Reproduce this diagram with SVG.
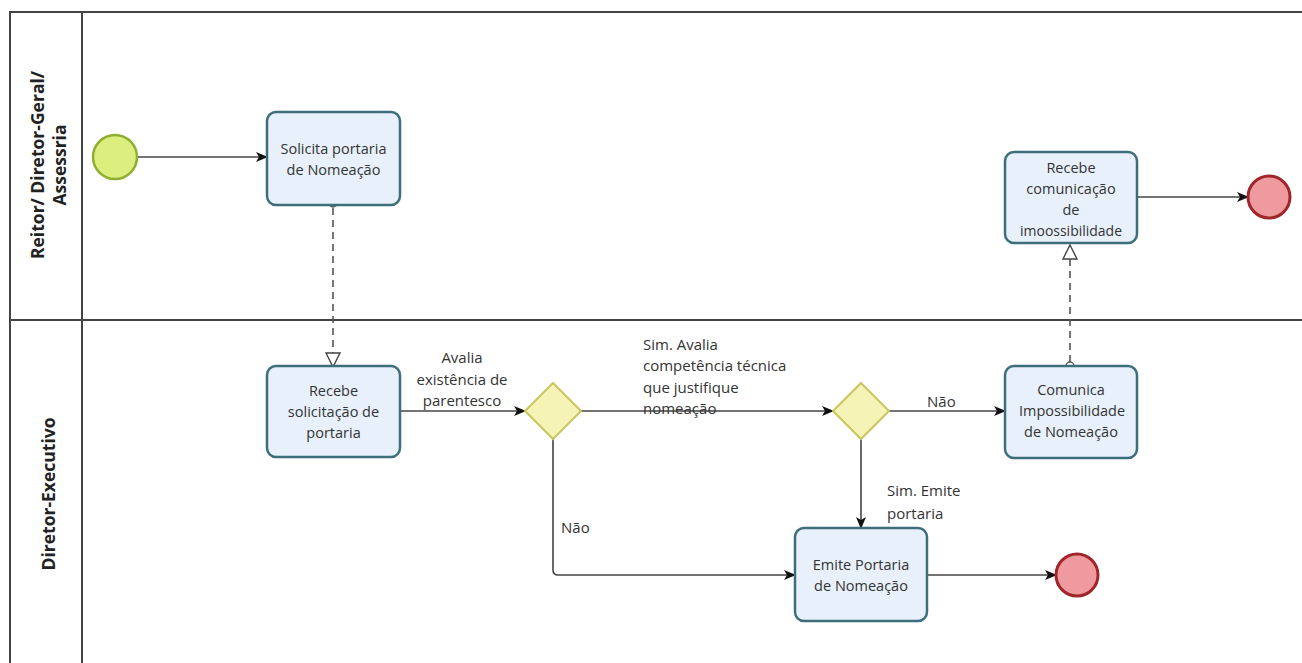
<svg xmlns="http://www.w3.org/2000/svg" width="1302" height="663" viewBox="0 0 1302 663">
  <style>
    .lane { fill: none; stroke: #444; stroke-width: 2; }
    .lane-title { font-family: "Open Sans", "Noto Sans", sans-serif; font-size: 17.5px; font-weight: bold; fill: #222; text-anchor: middle; }
    .task rect { fill: #e8f1fb; stroke: #3d6e7c; stroke-width: 2.5; }
    .task text { font-family: "Open Sans", "Noto Sans", sans-serif; font-size: 14.5px; fill: #333; text-anchor: middle; }
    .start circle { fill: #dcef7e; stroke: #8fae32; stroke-width: 2.5; }
    .end circle { fill: #ef9a9e; stroke: #a0262c; stroke-width: 3; }
    .gateway polygon { fill: #f5f3b5; stroke: #c9c560; stroke-width: 2; }
    .flow { fill: none; stroke: #444; stroke-width: 1.6; marker-end: url(#arrow); }
    .msg { fill: none; stroke: #555; stroke-width: 1.6; stroke-dasharray: 7 5; marker-end: url(#open-arrow); }
    .msg-start { fill: #fff; stroke: #555; stroke-width: 1.4; }
    .label { font-family: "Open Sans", "Noto Sans", sans-serif; font-size: 15px; fill: #333; }
  </style>
  <defs>
    <marker id="arrow" viewBox="0 0 12 10" refX="11" refY="5" markerWidth="12" markerHeight="10" markerUnits="userSpaceOnUse" orient="auto">
      <path d="M0,0 L12,5 L0,10 L3,5 Z" fill="#111"/>
    </marker>
    <marker id="open-arrow" viewBox="0 0 16 16" refX="15" refY="8" markerWidth="16" markerHeight="16" markerUnits="userSpaceOnUse" orient="auto">
      <path d="M1,1 L15,8 L1,15 Z" fill="#fff" stroke="#444" stroke-width="1.4"/>
    </marker>
  </defs>

  <rect width="1302" height="663" fill="#fff"/>

  <!-- pool and lanes -->
  <g id="pool">
    <path class="lane" d="M1302,12 H10 V663"/>
    <path class="lane" d="M82,12 V663"/>
    <path class="lane" d="M10,320 H1302"/>
    <text class="lane-title" transform="translate(44,165) rotate(-90)">Reitor/ Diretor-Geral/</text>
    <text class="lane-title" transform="translate(66,165) rotate(-90)">Assessria</text>
    <text class="lane-title" transform="translate(55,494) rotate(-90)">Diretor-Executivo</text>
  </g>

  <!-- connectors -->
  <g id="connectors">
    <path class="flow" d="M137,157 H267"/>
    <path class="msg" d="M333,208 V367"/>
    <circle class="msg-start" cx="333" cy="203" r="4"/>
    <path class="flow" d="M400,411 H525"/>
    <path class="flow" d="M581,411 H833"/>
    <path class="flow" d="M889,411 H1005"/>
    <path class="flow" d="M861,439 V528"/>
    <path class="flow" d="M553,439 V570 Q553,575 558,575 H795"/>
    <path class="flow" d="M927,575 H1056"/>
    <path class="msg" d="M1070,362 V245"/>
    <circle class="msg-start" cx="1070" cy="366" r="4"/>
    <path class="flow" d="M1137,197 H1248"/>
    <text class="label" text-anchor="middle"><tspan x="462" y="363">Avalia</tspan><tspan x="462" y="385">existência de</tspan><tspan x="462" y="406">parentesco</tspan></text>
    <text class="label"><tspan x="643" y="350">Sim. Avalia</tspan><tspan x="643" y="371">competência técnica</tspan><tspan x="643" y="393">que justifique</tspan><tspan x="643" y="414">nomeação</tspan></text>
    <text class="label" x="927" y="407">Não</text>
    <text class="label"><tspan x="887" y="496">Sim. Emite</tspan><tspan x="887" y="519">portaria</tspan></text>
    <text class="label" x="561" y="533">Não</text>
  </g>

  <!-- events -->
  <g id="start" class="start"><circle cx="115" cy="157" r="22"/></g>
  <g id="end-top" class="end"><circle cx="1269" cy="197" r="21"/></g>
  <g id="end-bottom" class="end"><circle cx="1077" cy="575" r="21"/></g>

  <!-- gateways -->
  <g id="gw-parentesco" class="gateway"><polygon points="553,383 581,411 553,439 525,411"/></g>
  <g id="gw-competencia" class="gateway"><polygon points="861,383 889,411 861,439 833,411"/></g>

  <!-- tasks -->
  <g id="task-solicita" class="task">
    <rect x="267" y="112" width="133" height="93" rx="9"/>
    <text><tspan x="333.5" y="154">Solicita portaria</tspan><tspan x="333.5" y="175">de Nomeação</tspan></text>
  </g>
  <g id="task-recebe-solicitacao" class="task">
    <rect x="267" y="366" width="133" height="91" rx="9"/>
    <text><tspan x="333.5" y="396">Recebe</tspan><tspan x="333.5" y="417">solicitação de</tspan><tspan x="333.5" y="438">portaria</tspan></text>
  </g>
  <g id="task-comunica" class="task">
    <rect x="1005" y="366" width="132" height="92" rx="9"/>
    <text><tspan x="1071" y="395">Comunica</tspan><tspan x="1019" y="416" text-anchor="start" textLength="106" lengthAdjust="spacingAndGlyphs">Impossibilidade</tspan><tspan x="1071" y="437">de Nomeação</tspan></text>
  </g>
  <g id="task-recebe-comunicacao" class="task">
    <rect x="1005" y="152" width="132" height="91" rx="9"/>
    <text><tspan x="1071" y="173">Recebe</tspan><tspan x="1071" y="194">comunicação</tspan><tspan x="1071" y="215">de</tspan><tspan x="1020" y="236" text-anchor="start" textLength="102" lengthAdjust="spacingAndGlyphs">imoossibilidade</tspan></text>
  </g>
  <g id="task-emite" class="task">
    <rect x="795" y="528" width="132" height="93" rx="9"/>
    <text><tspan x="861" y="570">Emite Portaria</tspan><tspan x="861" y="591">de Nomeação</tspan></text>
  </g>
</svg>
